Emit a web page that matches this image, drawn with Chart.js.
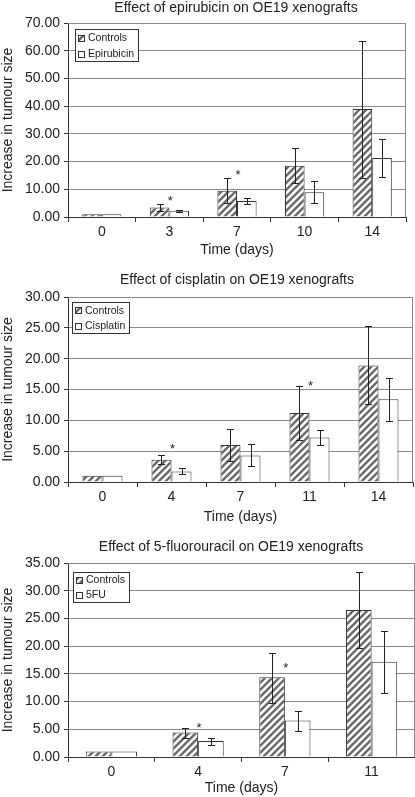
<!DOCTYPE html>
<html>
<head>
<meta charset="utf-8">
<script src="https://cdn.jsdelivr.net/npm/chart.js@4.4.1/dist/chart.umd.min.js"></script>
<style>
  html, body { margin: 0; padding: 0; background: #fff; }
  #wrap { position: relative; width: 415px; height: 797px; overflow: hidden; }
  .box { position: absolute; left: 0; width: 415px; }
</style>
</head>
<body>
<div id="wrap">
  <div class="box" style="top:0;height:259px"><canvas id="epi"></canvas></div>
  <div class="box" style="top:262px;height:264px"><canvas id="cis"></canvas></div>
  <div class="box" style="top:530px;height:267px"><canvas id="fu"></canvas></div>
</div>
<script>
// Three grouped bar charts (controls vs drug) with error bars and significance stars.

// --- epirubicin ---
const EPI_DAYS    = ['0', '3', '7', '10', '14'];
const EPI_CTRL    = [1.0, 3.4, 9.5, 18.5, 39.0];
const EPI_CTRL_HI = [null, 4.6, 14.1, 25.0, 63.6];
const EPI_CTRL_LO = [null, 2.2, 4.9, 12.1, 14.2];
const EPI_DRUG    = [1.0, 2.3, 5.8, 8.9, 21.3];
const EPI_DRUG_HI = [null, 2.6, 7.0, 12.9, 28.0];
const EPI_DRUG_LO = [null, 1.9, 4.7, 5.1, 14.5];
const EPI_STARS   = [null, 6.9, 16.3, null, null];

// --- cisplatin ---
const CIS_DAYS    = ['0', '4', '7', '11', '14'];
const CIS_CTRL    = [1.0, 3.6, 6.0, 11.2, 18.9];
const CIS_CTRL_HI = [null, 4.4, 8.6, 15.6, 25.3];
const CIS_CTRL_LO = [null, 2.9, 3.4, 6.8, 12.6];
const CIS_DRUG    = [1.0, 1.7, 4.3, 7.2, 13.4];
const CIS_DRUG_HI = [null, 2.2, 6.1, 8.4, 16.9];
const CIS_DRUG_LO = [null, 1.3, 2.6, 6.0, 9.9];
const CIS_STARS   = [null, 5.9, null, 16.2, null];

// --- 5-fluorouracil ---
const FU_DAYS    = ['0', '4', '7', '11'];
const FU_CTRL    = [1.0, 4.4, 14.4, 26.5];
const FU_CTRL_HI = [null, 5.3, 18.8, 33.3];
const FU_CTRL_LO = [null, 3.5, 9.8, 19.7];
const FU_DRUG    = [1.0, 2.9, 6.6, 17.2];
const FU_DRUG_HI = [null, 3.5, 8.3, 22.7];
const FU_DRUG_LO = [null, 2.2, 4.7, 11.6];
const FU_STARS   = [null, 5.9, 16.7, null];

const FONT = '"Liberation Sans", Arial, Helvetica, sans-serif';
const INK = '#222';
const GRID = '#8a8a8a';

function hatch(ctx) {
  const s = 7;
  const c = document.createElement('canvas');
  c.width = s; c.height = s;
  const g = c.getContext('2d');
  g.fillStyle = '#fff';
  g.fillRect(0, 0, s, s);
  g.strokeStyle = '#6a6a6a';
  g.lineWidth = 2.4;
  g.beginPath();
  g.moveTo(0, s); g.lineTo(s, 0);
  g.moveTo(-s / 2, s / 2); g.lineTo(s / 2, -s / 2);
  g.moveTo(s / 2, s * 1.5); g.lineTo(s * 1.5, s / 2);
  g.stroke();
  return ctx.createPattern(c, 'repeat');
}

// frame, title, error bars, stars and the boxed legend
const extrasPlugin = {
  id: 'extras',
  beforeDatasetsDraw(chart) {
    const { ctx, chartArea: a } = chart;
    ctx.save();
    ctx.strokeStyle = GRID;
    ctx.lineWidth = 1;
    ctx.beginPath();
    ctx.moveTo(Math.round(a.left), Math.round(a.top) + 0.5);
    ctx.lineTo(Math.round(a.right) - 0.5, Math.round(a.top) + 0.5);
    ctx.lineTo(Math.round(a.right) - 0.5, Math.round(a.bottom));
    ctx.stroke();
    ctx.restore();
  },
  afterDatasetsDraw(chart, args, opts) {
    const { ctx, chartArea: a, scales } = chart;
    const y = scales.y;
    ctx.save();

    // title
    ctx.fillStyle = INK;
    ctx.font = '14px ' + FONT;
    ctx.textAlign = 'center';
    ctx.textBaseline = 'middle';
    ctx.fillText(opts.title, opts.titleX, opts.titleY);

    ctx.strokeStyle = INK;
    ctx.lineWidth = 1;

    // error bars
    chart.data.datasets.forEach((ds, di) => {
      const meta = chart.getDatasetMeta(di);
      meta.data.forEach((bar, i) => {
        if (ds.errHi[i] == null) return;
        const x = Math.round(bar.x) + 0.5;
        const y1 = Math.round(y.getPixelForValue(ds.errHi[i])) + 0.5;
        const y2 = Math.round(y.getPixelForValue(ds.errLo[i])) + 0.5;
        ctx.beginPath();
        ctx.moveTo(x, y1); ctx.lineTo(x, y2);
        ctx.moveTo(x - 3.5, y1); ctx.lineTo(x + 3.5, y1);
        ctx.moveTo(x - 3.5, y2); ctx.lineTo(x + 3.5, y2);
        ctx.stroke();
      });
    });

    // significance stars
    const m0 = chart.getDatasetMeta(0), m1 = chart.getDatasetMeta(1);
    ctx.fillStyle = INK;
    ctx.font = '13px ' + FONT;
    ctx.textAlign = 'center';
    ctx.textBaseline = 'alphabetic';
    opts.stars.forEach((v, i) => {
      if (v == null) return;
      const cx = (m0.data[i].x + m1.data[i].x) / 2 + 1;
      ctx.fillText('*', cx, y.getPixelForValue(v) + 7.5);
    });

    // legend
    const names = chart.data.datasets.map(d => d.label);
    ctx.font = '10.5px ' + FONT;
    const tw = Math.max(...names.map(n => ctx.measureText(n).width));
    const lx = Math.round(a.left + opts.legendX) + 0.5;
    const ly = Math.round(a.top + opts.legendY) + 0.5;
    const lw = Math.round(13 + tw + 4);
    const lh = opts.legendH;
    ctx.fillStyle = '#fff';
    ctx.fillRect(lx, ly, lw, lh);
    ctx.strokeStyle = '#333';
    ctx.strokeRect(lx, ly, lw, lh);
    ctx.textAlign = 'left';
    ctx.textBaseline = 'middle';
    names.forEach((n, k) => {
      const cy = ly + lh / 2 + (k === 0 ? -lh / 4 : lh / 4);
      const sx = lx + 3, sy = Math.round(cy - 3) + 0.5;
      ctx.fillStyle = chart.data.datasets[k].backgroundColor;
      ctx.fillRect(sx, sy, 6, 6);
      ctx.strokeStyle = '#333';
      ctx.strokeRect(sx, sy, 6, 6);
      ctx.fillStyle = INK;
      ctx.fillText(n, lx + 12.5, cy + 0.5);
    });
    ctx.restore();
  }
};

function build(id, o) {
  const canvas = document.getElementById(id);
  const ctx = canvas.getContext('2d');
  return new Chart(ctx, {
    type: 'bar',
    data: {
      labels: o.labels,
      datasets: [
        {
          label: 'Controls',
          data: o.ctrl,
          errHi: o.ctrlHi,
          errLo: o.ctrlLo,
          backgroundColor: hatch(ctx),
          borderColor: '#333',
          borderWidth: 1,
          borderSkipped: 'bottom',
          barPercentage: 1,
          categoryPercentage: o.catPct
        },
        {
          label: o.drugName,
          data: o.drug,
          errHi: o.drugHi,
          errLo: o.drugLo,
          backgroundColor: '#ffffff',
          borderColor: '#333',
          borderWidth: 1,
          borderSkipped: 'bottom',
          barPercentage: 1,
          categoryPercentage: o.catPct
        }
      ]
    },
    options: {
      responsive: true,
      maintainAspectRatio: false,
      animation: false,
      layout: { padding: { left: 0, right: o.padRight, top: o.plotTop, bottom: 0 } },
      plugins: {
        legend: { display: false },
        tooltip: { enabled: false },
        title: { display: false },
        extras: {
          title: o.title, titleX: o.titleX, titleY: o.titleY,
          stars: o.stars, legendX: o.legendX, legendY: o.legendY, legendH: o.legendH
        }
      },
      scales: {
        x: {
          offset: true,
          grid: { offset: true, drawOnChartArea: false, tickLength: 5, tickColor: '#333' },
          border: { color: '#333' },
          ticks: { color: INK, padding: 2, font: { family: FONT, size: 14 } },
          title: {
            display: true,
            text: 'Time (days)',
            color: INK,
            font: { family: FONT, size: 14 },
            padding: 0
          },
          afterFit: s => { s.height = o.xHeight; }
        },
        y: {
          min: 0,
          max: o.yMax,
          grid: { color: GRID, tickLength: 4, tickColor: '#333' },
          border: { color: '#333' },
          ticks: {
            stepSize: o.yStep,
            color: INK,
            padding: 4,
            font: { family: FONT, size: 14 },
            callback: v => Number(v).toFixed(2)
          },
          title: {
            display: true,
            text: 'Increase in tumour size',
            color: INK,
            font: { family: FONT, size: 14 },
            padding: 0
          },
          afterFit: s => { s.width = 68; }
        }
      }
    },
    plugins: [extrasPlugin]
  });
}

build('epi', {
  labels: EPI_DAYS, ctrl: EPI_CTRL, ctrlHi: EPI_CTRL_HI, ctrlLo: EPI_CTRL_LO,
  drug: EPI_DRUG, drugHi: EPI_DRUG_HI, drugLo: EPI_DRUG_LO, stars: EPI_STARS,
  drugName: 'Epirubicin', title: 'Effect of epirubicin on OE19 xenografts',
  titleX: 236, titleY: 8.5, plotTop: 23,
  yMax: 70, yStep: 10, catPct: 0.58, padRight: 9, xHeight: 42,
  legendX: 7, legendY: 6, legendH: 32
});

build('cis', {
  labels: CIS_DAYS, ctrl: CIS_CTRL, ctrlHi: CIS_CTRL_HI, ctrlLo: CIS_CTRL_LO,
  drug: CIS_DRUG, drugHi: CIS_DRUG_HI, drugLo: CIS_DRUG_LO, stars: CIS_STARS,
  drugName: 'Cisplatin', title: 'Effect of cisplatin on OE19 xenografts',
  titleX: 237, titleY: 18, plotTop: 35,
  yMax: 30, yStep: 5, catPct: 0.58, padRight: 2, xHeight: 44,
  legendX: 4, legendY: 5, legendH: 31
});

build('fu', {
  labels: FU_DAYS, ctrl: FU_CTRL, ctrlHi: FU_CTRL_HI, ctrlLo: FU_CTRL_LO,
  drug: FU_DRUG, drugHi: FU_DRUG_HI, drugLo: FU_DRUG_LO, stars: FU_STARS,
  drugName: '5FU', title: 'Effect of 5-fluorouracil on OE19 xenografts',
  titleX: 231, titleY: 17, plotTop: 33,
  yMax: 35, yStep: 5, catPct: 0.59, padRight: 0, xHeight: 40,
  legendX: 5, legendY: 9, legendH: 30
});
</script>
</body>
</html>
